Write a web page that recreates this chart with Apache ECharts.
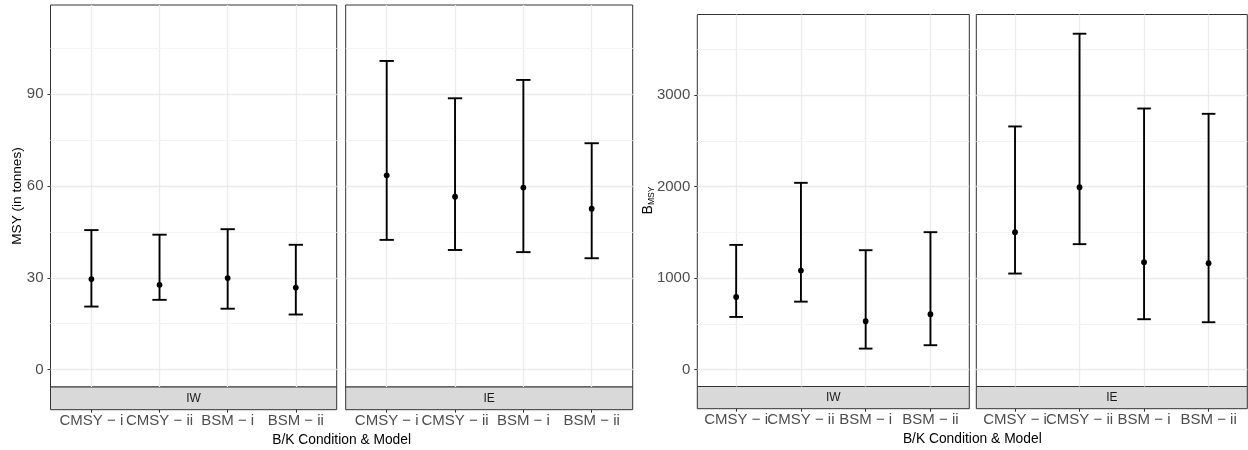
<!DOCTYPE html>
<html><head><meta charset="utf-8">
<script src="https://cdn.jsdelivr.net/npm/echarts@6/dist/echarts.min.js"></script>
<style>html,body{margin:0;padding:0;background:#fff}#c{width:1248px;height:450px}</style>
</head><body><div id="c"></div>
<script>
// ---- data ----
const categories = ['CMSY − i', 'CMSY − ii', 'BSM − i', 'BSM − ii'];
const facets = ['IW', 'IE'];
const xTitle = 'B/K Condition & Model';
const msyTitle = 'MSY (in tonnes)';

const msyIW_low  = [20.6, 22.8, 19.9, 18.0];
const msyIW_mid  = [29.6, 27.7, 29.9, 26.8];
const msyIW_high = [45.6, 44.1, 45.9, 40.8];
const msyIE_low  = [42.4, 39.1, 38.4, 36.4];
const msyIE_mid  = [63.5, 56.5, 59.5, 52.6];
const msyIE_high = [100.9, 88.7, 94.7, 74.0];

const bmsyIW_low  = [576, 743, 230, 267];
const bmsyIW_mid  = [795, 1082, 529, 606];
const bmsyIW_high = [1363, 2041, 1305, 1502];
const bmsyIE_low  = [1050, 1371, 551, 518];
const bmsyIE_mid  = [1502, 1994, 1174, 1163];
const bmsyIE_high = [2657, 3670, 2853, 2795];

const msyTicks = [0, 30, 60, 90];
const msyMinor = [15, 45, 75, 105];
const bmsyTicks = [0, 1000, 2000, 3000];
const bmsyMinor = [500, 1500, 2500, 3500];
const catPos = [1, 2, 3, 4];
const catPosOdd = [1, 3];
const catPosEven = [2, 4];

// ---- layout ----
const FONT = 'Liberation Sans, Arial, sans-serif';
const panels = [
  {left: 50.5, right: 336.7, top: 5, bottom: 387, stripBottom: 409.7, ymin: -5.7, ymax: 119.2,
   low: msyIW_low, mid: msyIW_mid, high: msyIW_high, ticks: msyTicks, minor: msyMinor, showY: true, facet: 0},
  {left: 345.7, right: 632.7, top: 5, bottom: 387, stripBottom: 409.7, ymin: -5.7, ymax: 119.2,
   low: msyIE_low, mid: msyIE_mid, high: msyIE_high, ticks: msyTicks, minor: msyMinor, showY: false, facet: 1},
  {left: 697.3, right: 969.3, top: 14.5, bottom: 386.5, stripBottom: 408.7, ymin: -184, ymax: 3880,
   low: bmsyIW_low, mid: bmsyIW_mid, high: bmsyIW_high, ticks: bmsyTicks, minor: bmsyMinor, showY: true, facet: 0},
  {left: 976.3, right: 1247.3, top: 14.5, bottom: 386.5, stripBottom: 408.7, ymin: -184, ymax: 3880,
   low: bmsyIE_low, mid: bmsyIE_mid, high: bmsyIE_high, ticks: bmsyTicks, minor: bmsyMinor, showY: false, facet: 1}
];

function renderErr(params, api) {
  const x = api.value(0);
  const lo = api.coord([x, api.value(1)]);
  const md = api.coord([x, api.value(2)]);
  const hi = api.coord([x, api.value(3)]);
  const half = api.size([0.21, 0])[0] / 2;
  const st = {stroke: '#000', lineWidth: 1.9, lineCap: 'butt'};
  return {type: 'group', children: [
    {type: 'line', shape: {x1: lo[0], y1: lo[1], x2: hi[0], y2: hi[1]}, style: st},
    {type: 'line', shape: {x1: hi[0] - half, y1: hi[1], x2: hi[0] + half, y2: hi[1]}, style: st},
    {type: 'line', shape: {x1: lo[0] - half, y1: lo[1], x2: lo[0] + half, y2: lo[1]}, style: st},
    {type: 'circle', shape: {cx: md[0], cy: md[1], r: 2.9}, style: {fill: '#000'}}
  ]};
}

function labelAxis(gridIndex, values, showTick) {
  return {gridIndex, type: 'value', min: 0.4, max: 4.6, position: 'bottom',
    axisLine: {show: false},
    axisTick: {show: showTick, length: 3, customValues: showTick ? catPos : values, lineStyle: {color: '#333', width: 1}},
    axisLabel: {show: true, customValues: values, formatter: v => categories[Math.round(v) - 1],
      fontSize: 15, color: '#4d4d4d', fontFamily: FONT, margin: 4, hideOverlap: false,
      showMinLabel: true, showMaxLabel: true},
    splitLine: {show: false}};
}

const grid = [], xAxis = [], yAxis = [], series = [], graphic = [];
panels.forEach((p, k) => {
  const w = p.right - p.left;
  grid.push({left: p.left, top: p.top, width: w, height: p.bottom - p.top, show: true,
    backgroundColor: '#fff', borderColor: '#333', borderWidth: 1, containLabel: false, outerBoundsMode: 'none'});
  grid.push({left: p.left, top: p.bottom, width: w, height: p.stripBottom - p.bottom, show: true,
    backgroundColor: '#d9d9d9', borderColor: '#333', borderWidth: 1, containLabel: false, outerBoundsMode: 'none'});
  const gp = 2 * k, gs = 2 * k + 1;
  const xp = xAxis.length;
  xAxis.push({gridIndex: gp, type: 'value', min: 0.4, max: 4.6,
    axisLine: {show: false}, axisTick: {show: false, customValues: catPos},
    axisLabel: {show: false, customValues: catPos},
    splitLine: {show: true, lineStyle: {color: '#ebebeb', width: 1.3}}});
  xAxis.push(labelAxis(gs, catPosOdd, true));
  xAxis.push(labelAxis(gs, catPosEven, false));
  const yp = yAxis.length;
  yAxis.push({gridIndex: gp, type: 'value', min: p.ymin, max: p.ymax,
    axisLine: {show: false},
    axisTick: {show: p.showY, length: 3, customValues: p.ticks, lineStyle: {color: '#333', width: 1}},
    axisLabel: {show: p.showY, customValues: p.ticks, formatter: v => String(v),
      fontSize: 15, color: '#4d4d4d', fontFamily: FONT, margin: 7, showMinLabel: true, showMaxLabel: true},
    splitLine: {show: true, lineStyle: {color: '#ebebeb', width: 1.3}}});
  yAxis.push({gridIndex: gs, type: 'value', min: 0, max: 1, show: false, splitLine: {show: false}});
  series.push({type: 'line', xAxisIndex: xp, yAxisIndex: yp, data: [], z: 1, silent: true, animation: false,
    markLine: {z: 1, silent: true, animation: false, symbol: ['none', 'none'], label: {show: false},
      lineStyle: {color: '#f3f3f3', width: 1, type: 'solid'},
      emphasis: {disabled: true},
      data: p.minor.map(v => ({yAxis: v}))}});
  series.push({type: 'custom', xAxisIndex: xp, yAxisIndex: yp, z: 3, silent: true, animation: false,
    renderItem: renderErr,
    data: catPos.map((x, i) => [x, p.low[i], p.mid[i], p.high[i]])});
  graphic.push({type: 'text', x: p.left + w / 2, y: (p.bottom + p.stripBottom) / 2, z: 10,
    style: {text: facets[p.facet], fontSize: 12, fill: '#1a1a1a', fontFamily: FONT, align: 'center', verticalAlign: 'middle'}});
});

// axis titles
graphic.push({type: 'text', x: (panels[0].left + panels[1].right) / 2, y: 440, z: 10,
  style: {text: xTitle, fontSize: 13.8, fill: '#000', fontFamily: FONT, align: 'center', verticalAlign: 'middle'}});
graphic.push({type: 'text', x: (panels[2].left + panels[3].right) / 2, y: 439, z: 10,
  style: {text: xTitle, fontSize: 13.8, fill: '#000', fontFamily: FONT, align: 'center', verticalAlign: 'middle'}});
graphic.push({type: 'text', x: 17, y: (panels[0].top + panels[0].bottom) / 2, rotation: Math.PI / 2, z: 10,
  style: {text: msyTitle, fontSize: 13.6, fill: '#000', fontFamily: FONT, align: 'center', verticalAlign: 'middle'}});
graphic.push({type: 'text', x: 648, y: (panels[2].top + panels[2].bottom) / 2, rotation: Math.PI / 2, z: 10,
  style: {text: '{b|B}{s|MSY}', fontFamily: FONT, align: 'center', verticalAlign: 'middle',
    rich: {b: {fontSize: 14, fill: '#000', fontFamily: FONT, lineHeight: 16, verticalAlign: 'middle'},
           s: {fontSize: 8.5, fill: '#000', fontFamily: FONT, lineHeight: 10, verticalAlign: 'bottom'}}}});

const chart = echarts.init(document.getElementById('c'), null, {renderer: 'canvas'});
chart.setOption({animation: false, backgroundColor: '#fff', grid, xAxis, yAxis, series, graphic});
</script></body></html>
